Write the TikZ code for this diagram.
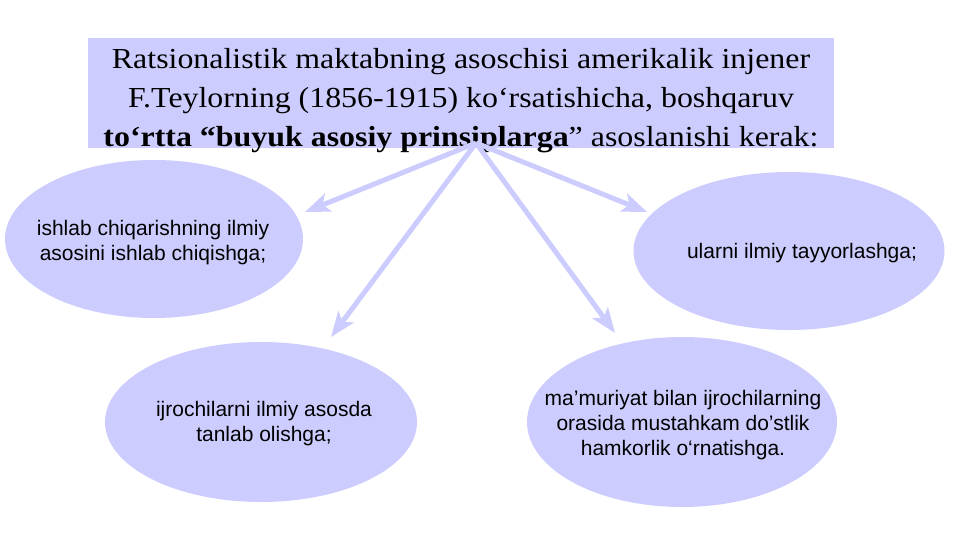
\documentclass[tikz,border=0pt]{standalone}
\usepackage{fontspec}
\setmainfont{Liberation Serif}
\setsansfont{Liberation Sans}
\usetikzlibrary{shapes.geometric,arrows.meta}
\definecolor{lav}{HTML}{CCCCFF}
\tikzset{
    oval/.style={ellipse,fill=lav,inner sep=0pt},
    ovaltext/.style={font=\sffamily\fontsize{21}{25}\selectfont,align=center},
    link/.style={draw=lav,line width=5pt,-{Stealth[length=25pt,width=19pt,inset=6pt]}}
}
\begin{document}
\begin{tikzpicture}[x=1pt,y=-1pt]
    \useasboundingbox (0,0) rectangle (960,540);

    % Title box
    \node[fill=lav,minimum width=746pt,minimum height=110pt,inner sep=0pt] (head) at (461,93) {};
    \node[font=\fontsize{29}{39}\selectfont,align=center,xscale=1.1,transform shape] (title) at (461,101)
        {Ratsionalistik maktabning asoschisi amerikalik injener\\
         F.Teylorning (1856-1915) ko‘rsatishicha, boshqaruv\\
         \textbf{to‘rtta “buyuk asosiy prinsiplarga}” asoslanishi kerak:};

    % Ellipses
    \node[oval,minimum width=298pt,minimum height=158pt] (e1) at (154,239) {};
    \node[oval,minimum width=311pt,minimum height=158pt] (e2) at (789,251) {};
    \node[oval,minimum width=312pt,minimum height=160pt] (e3) at (261,422) {};
    \node[oval,minimum width=310pt,minimum height=170pt] (e4) at (682,422) {};

    % Texts in the ellipses
    \node[ovaltext] (t1) at (153,243) {ishlab chiqarishning ilmiy\\ asosini ishlab chiqishga;};
    \node[ovaltext] (t2) at (802,253) {ularni ilmiy tayyorlashga;};
    \node[ovaltext] (t3) at (264,424) {ijrochilarni ilmiy asosda\\ tanlab olishga;};
    \node[ovaltext] (t4) at (683,425) {ma’muriyat bilan ijrochilarning\\ orasida mustahkam do’stlik\\ hamkorlik o‘rnatishga.};

    % Arrow ends
    \coordinate (src) at (476,143);
    \coordinate (a1) at (305,212);
    \coordinate (a2) at (331,337);
    \coordinate (a3) at (615,333);
    \coordinate (a4) at (647,212);

    % Arrows from the title
    \draw[link] (src) -- (a1);
    \draw[link] (src) -- (a2);
    \draw[link] (src) -- (a3);
    \draw[link] (src) -- (a4);
\end{tikzpicture}
\end{document}
